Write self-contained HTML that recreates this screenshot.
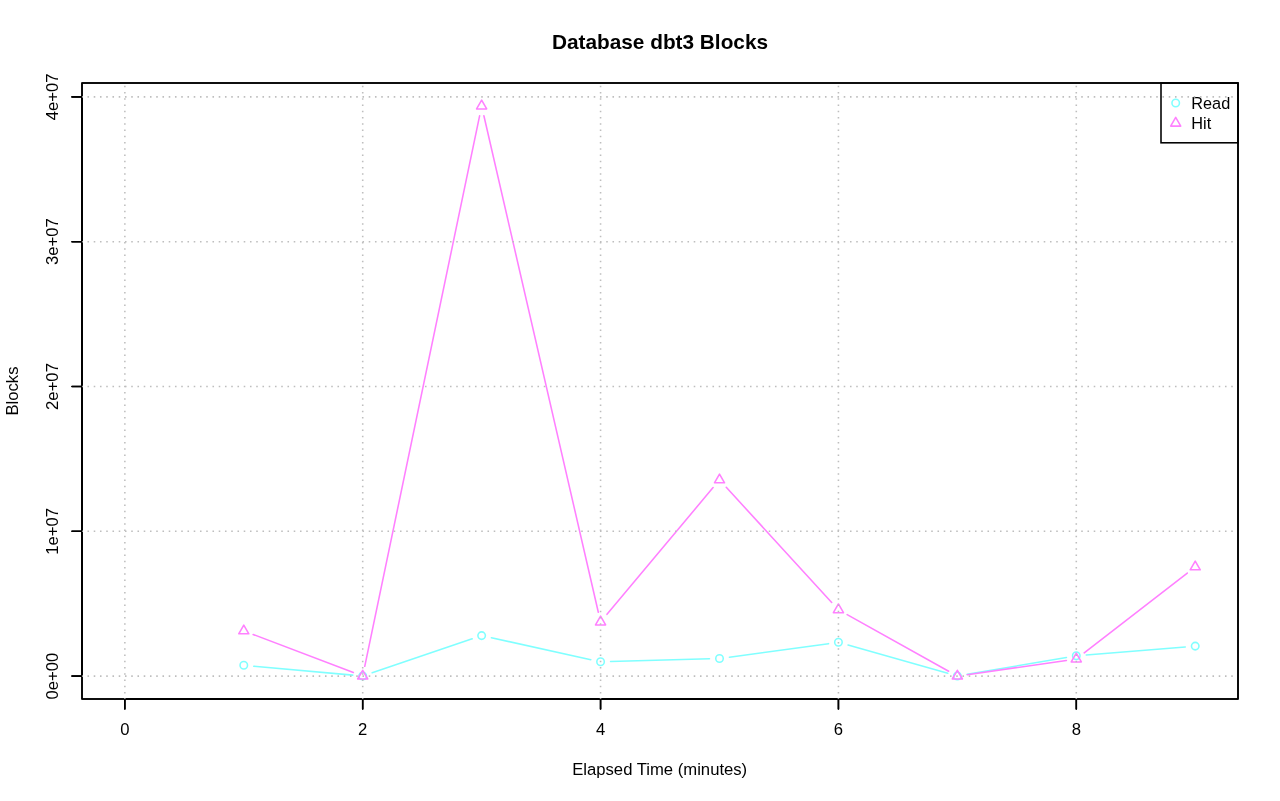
<!DOCTYPE html>
<html lang="en"><head><meta charset="utf-8"><title>Database dbt3 Blocks</title>
<style>html,body{margin:0;padding:0;background:#fff;overflow:hidden}svg{display:block}text{font-family:"Liberation Sans",Arial,Helvetica,sans-serif;fill:#000}</style></head><body>
<svg width="1280" height="801" viewBox="0 0 1280 801">
<rect width="1280" height="801" fill="#fff"/>
<path d="M253.74 666.20L352.75 675.10M372.18 672.78L472.17 638.82M491.41 637.75L590.80 659.65M610.57 661.52L709.50 658.78M729.41 657.15L828.52 643.65M848.05 645.03L947.74 673.27M967.22 674.33L1066.43 657.47M1086.26 654.99L1185.25 646.91" fill="none" stroke="#80ffff" stroke-width="1.5625" stroke-linecap="round"/>
<circle cx="243.78" cy="665.30" r="3.75" fill="none" stroke="#80ffff" stroke-width="1.5625"/>
<circle cx="362.71" cy="676.00" r="3.75" fill="none" stroke="#80ffff" stroke-width="1.5625"/>
<circle cx="481.64" cy="635.60" r="3.75" fill="none" stroke="#80ffff" stroke-width="1.5625"/>
<circle cx="600.57" cy="661.80" r="3.75" fill="none" stroke="#80ffff" stroke-width="1.5625"/>
<circle cx="719.50" cy="658.50" r="3.75" fill="none" stroke="#80ffff" stroke-width="1.5625"/>
<circle cx="838.43" cy="642.30" r="3.75" fill="none" stroke="#80ffff" stroke-width="1.5625"/>
<circle cx="957.36" cy="676.00" r="3.75" fill="none" stroke="#80ffff" stroke-width="1.5625"/>
<circle cx="1076.29" cy="655.80" r="3.75" fill="none" stroke="#80ffff" stroke-width="1.5625"/>
<circle cx="1195.22" cy="646.10" r="3.75" fill="none" stroke="#80ffff" stroke-width="1.5625"/>
<path d="M253.13 634.45L353.36 672.55M364.75 666.31L479.60 115.79M483.89 115.74L598.32 612.26M606.99 614.33L713.08 487.57M726.25 487.28L831.68 602.42M847.16 614.67L948.63 671.23M967.26 674.68L1066.39 660.42M1084.20 652.88L1187.31 573.02" fill="none" stroke="#ff80ff" stroke-width="1.5625" stroke-linecap="round"/>
<path d="M243.78 625.07L248.83 633.81L238.73 633.81Z" fill="none" stroke="#ff80ff" stroke-width="1.5625" stroke-linejoin="round"/>
<path d="M362.71 670.27L367.76 679.01L357.66 679.01Z" fill="none" stroke="#ff80ff" stroke-width="1.5625" stroke-linejoin="round"/>
<path d="M481.64 100.17L486.69 108.92L476.59 108.92Z" fill="none" stroke="#ff80ff" stroke-width="1.5625" stroke-linejoin="round"/>
<path d="M600.57 616.17L605.62 624.91L595.52 624.91Z" fill="none" stroke="#ff80ff" stroke-width="1.5625" stroke-linejoin="round"/>
<path d="M719.50 474.07L724.55 482.81L714.45 482.81Z" fill="none" stroke="#ff80ff" stroke-width="1.5625" stroke-linejoin="round"/>
<path d="M838.43 603.97L843.48 612.71L833.38 612.71Z" fill="none" stroke="#ff80ff" stroke-width="1.5625" stroke-linejoin="round"/>
<path d="M957.36 670.27L962.41 679.01L952.31 679.01Z" fill="none" stroke="#ff80ff" stroke-width="1.5625" stroke-linejoin="round"/>
<path d="M1076.29 653.17L1081.34 661.91L1071.24 661.91Z" fill="none" stroke="#ff80ff" stroke-width="1.5625" stroke-linejoin="round"/>
<path d="M1195.22 561.07L1200.27 569.81L1190.17 569.81Z" fill="none" stroke="#ff80ff" stroke-width="1.5625" stroke-linejoin="round"/>
<rect x="1161" y="83.0" width="77.0" height="59.80000000000001" fill="none" stroke="#000" stroke-width="1.5625"/>
<circle cx="1175.7" cy="103" r="3.75" fill="none" stroke="#80ffff" stroke-width="1.5625"/>
<path d="M1175.70 117.37L1180.75 126.12L1170.65 126.12Z" fill="none" stroke="#ff80ff" stroke-width="1.5625" stroke-linejoin="round"/>
<text x="1191.3" y="108.6" font-size="16.3">Read</text>
<text x="1191.3" y="128.6" font-size="16.3">Hit</text>
<rect x="82.0" y="83.0" width="1156.0" height="616.0" fill="none" stroke="#000" stroke-width="1.5625" stroke-linejoin="round"/>
<rect x="82.0" y="83.0" width="1156.0" height="616.0" fill="none" stroke="#000" stroke-width="1.5625" stroke-linejoin="round"/>
<path d="M124.85 699.0L1076.29 699.0M124.85 699.0L124.85 709.0M362.71 699.0L362.71 709.0M600.57 699.0L600.57 709.0M838.43 699.0L838.43 709.0M1076.29 699.0L1076.29 709.0M82.0 676.1L82.0 96.89999999999998M82.0 676.10L72.0 676.10M82.0 531.30L72.0 531.30M82.0 386.50L72.0 386.50M82.0 241.70L72.0 241.70M82.0 96.90L72.0 96.90" fill="none" stroke="#000" stroke-width="1.5625" stroke-linecap="round"/>
<path d="M124.85 699.0L1076.29 699.0M124.85 699.0L124.85 709.0M362.71 699.0L362.71 709.0M600.57 699.0L600.57 709.0M838.43 699.0L838.43 709.0M1076.29 699.0L1076.29 709.0M82.0 676.1L82.0 96.89999999999998M82.0 676.10L72.0 676.10M82.0 531.30L72.0 531.30M82.0 386.50L72.0 386.50M82.0 241.70L72.0 241.70M82.0 96.90L72.0 96.90" fill="none" stroke="#000" stroke-width="1.5625" stroke-linecap="round"/>
<clipPath id="pc"><rect x="82.0" y="83.0" width="1156.0" height="616.0"/></clipPath><g clip-path="url(#pc)">
<line x1="81.22" y1="676.10" x2="1237.4" y2="676.10" stroke="#bebebe" stroke-width="1.5625" stroke-dasharray="1.5625 4.6875"/>
<line x1="81.22" y1="531.30" x2="1237.4" y2="531.30" stroke="#bebebe" stroke-width="1.5625" stroke-dasharray="1.5625 4.6875"/>
<line x1="81.22" y1="386.50" x2="1237.4" y2="386.50" stroke="#bebebe" stroke-width="1.5625" stroke-dasharray="1.5625 4.6875"/>
<line x1="81.22" y1="241.70" x2="1237.4" y2="241.70" stroke="#bebebe" stroke-width="1.5625" stroke-dasharray="1.5625 4.6875"/>
<line x1="81.22" y1="96.90" x2="1237.4" y2="96.90" stroke="#bebebe" stroke-width="1.5625" stroke-dasharray="1.5625 4.6875"/>
<line x1="124.85" y1="699.78" x2="124.85" y2="83.0" stroke="#bebebe" stroke-width="1.5625" stroke-dasharray="1.5625 4.6875"/>
<line x1="362.71" y1="699.78" x2="362.71" y2="83.0" stroke="#bebebe" stroke-width="1.5625" stroke-dasharray="1.5625 4.6875"/>
<line x1="600.57" y1="699.78" x2="600.57" y2="83.0" stroke="#bebebe" stroke-width="1.5625" stroke-dasharray="1.5625 4.6875"/>
<line x1="838.43" y1="699.78" x2="838.43" y2="83.0" stroke="#bebebe" stroke-width="1.5625" stroke-dasharray="1.5625 4.6875"/>
<line x1="1076.29" y1="699.78" x2="1076.29" y2="83.0" stroke="#bebebe" stroke-width="1.5625" stroke-dasharray="1.5625 4.6875"/>
</g>
<text x="124.85" y="734.8" font-size="16.67" text-anchor="middle">0</text>
<text x="362.71" y="734.8" font-size="16.67" text-anchor="middle">2</text>
<text x="600.57" y="734.8" font-size="16.67" text-anchor="middle">4</text>
<text x="838.43" y="734.8" font-size="16.67" text-anchor="middle">6</text>
<text x="1076.29" y="734.8" font-size="16.67" text-anchor="middle">8</text>
<text transform="translate(58.3 676.10) rotate(-90)" font-size="16.67" text-anchor="middle">0e+00</text>
<text transform="translate(58.3 531.30) rotate(-90)" font-size="16.67" text-anchor="middle">1e+07</text>
<text transform="translate(58.3 386.50) rotate(-90)" font-size="16.67" text-anchor="middle">2e+07</text>
<text transform="translate(58.3 241.70) rotate(-90)" font-size="16.67" text-anchor="middle">3e+07</text>
<text transform="translate(58.3 96.90) rotate(-90)" font-size="16.67" text-anchor="middle">4e+07</text>
<text x="660" y="48.8" font-size="20.8" font-weight="bold" text-anchor="middle">Database dbt3 Blocks</text>
<text x="659.7" y="774.9" font-size="16.67" text-anchor="middle">Elapsed Time (minutes)</text>
<text transform="translate(17.8 391) rotate(-90)" font-size="16.67" text-anchor="middle">Blocks</text>
</svg></body></html>
